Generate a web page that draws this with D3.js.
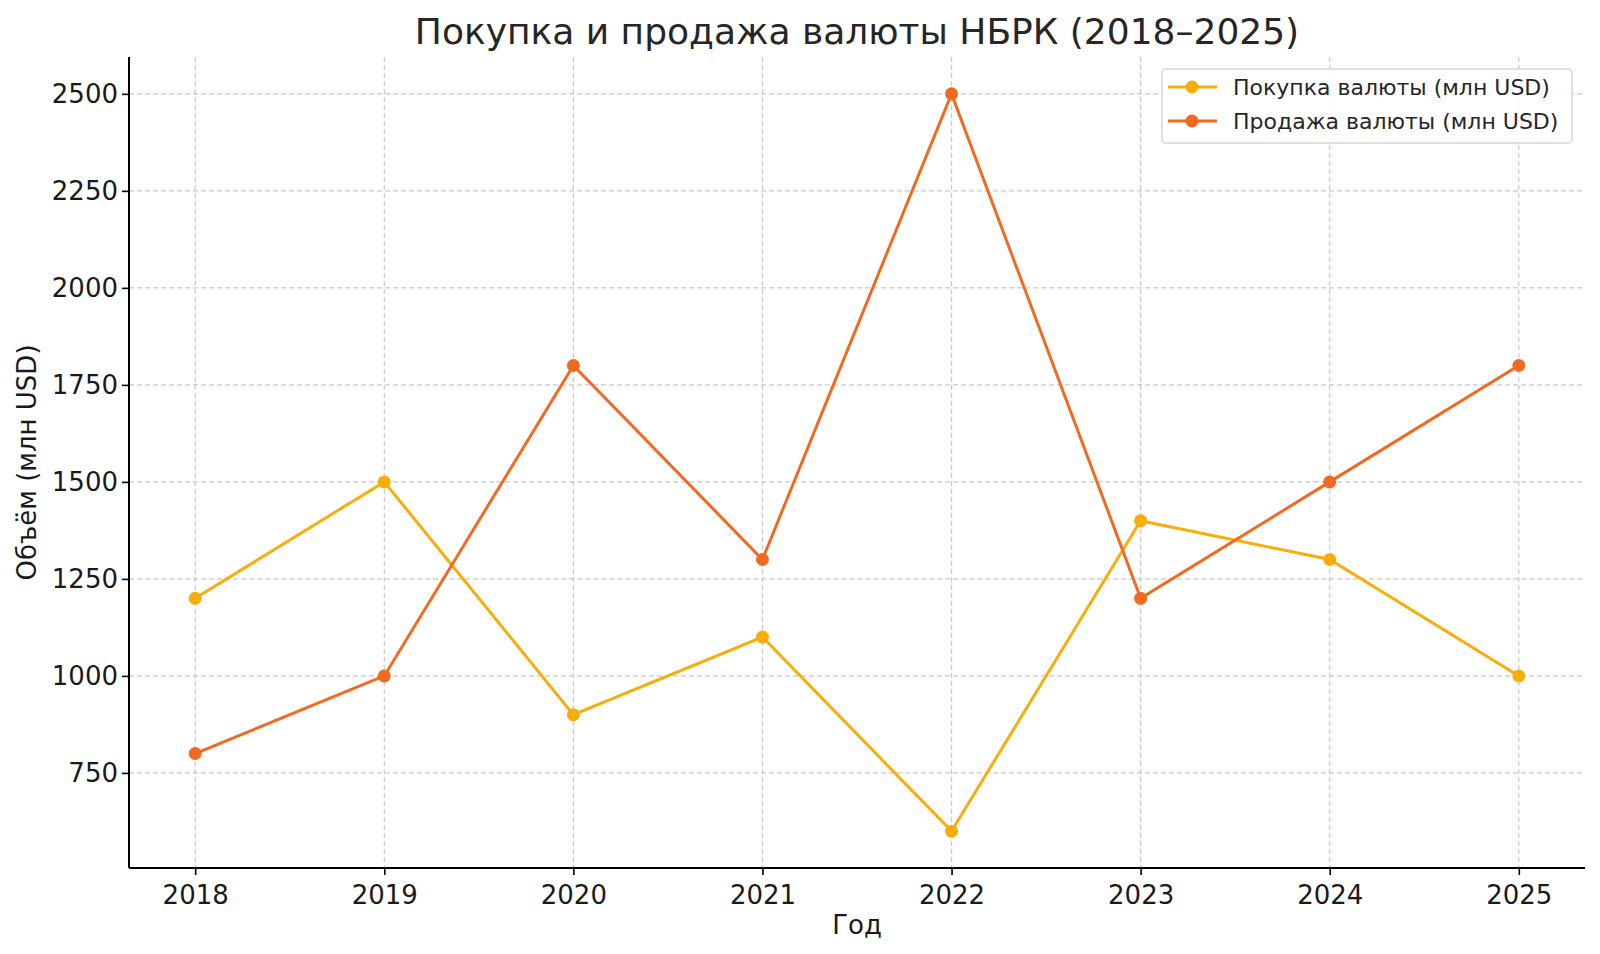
<!DOCTYPE html>
<html>
<head>
<meta charset="utf-8">
<script src="https://cdn.jsdelivr.net/npm/d3@7"></script>
<style>
  body { margin: 0; background: #fff; }
  svg { font-family: "DejaVu Sans", sans-serif; }
</style>
</head>
<body>
<svg id="chart" width="1600" height="954"></svg>
<script>
var years = [2018, 2019, 2020, 2021, 2022, 2023, 2024, 2025];
var buy = [1200, 1500, 900, 1100, 600, 1400, 1300, 1000];
var sell = [800, 1000, 1800, 1300, 2500, 1200, 1500, 1800];
var yTicks = [750, 1000, 1250, 1500, 1750, 2000, 2250, 2500];

var series = [
  { name: 'Покупка валюты (млн USD)', values: buy, color: '#f7ae0b' },
  { name: 'Продажа валюты (млн USD)', values: sell, color: '#f06a22' }
];

var plotLeft = 129, plotRight = 1585, plotTop = 57, plotBottom = 868;

var svg = d3.select('#chart');

var xScale = d3.scaleLinear().domain([2017.65, 2025.35]).range([plotLeft, plotRight]);
var yScale = d3.scaleLinear().domain([505, 2595]).range([plotBottom, plotTop]);

// grid
svg.append('g')
  .selectAll('line')
  .data(years)
  .enter()
  .append('line')
  .attr('x1', d => xScale(d)).attr('x2', d => xScale(d))
  .attr('y1', plotTop).attr('y2', plotBottom)
  .attr('stroke', '#c8c8c8').attr('stroke-width', 1.2)
  .attr('stroke-dasharray', '5,3');

svg.append('g')
  .selectAll('line')
  .data(yTicks)
  .enter()
  .append('line')
  .attr('x1', plotLeft).attr('x2', plotRight)
  .attr('y1', d => yScale(d)).attr('y2', d => yScale(d))
  .attr('stroke', '#c8c8c8').attr('stroke-width', 1.2)
  .attr('stroke-dasharray', '5,3');

// axes
var xAxis = d3.axisBottom(xScale).tickValues(years).tickFormat(d3.format('d')).tickSize(7).tickSizeOuter(0);
var yAxis = d3.axisLeft(yScale).tickValues(yTicks).tickFormat(d3.format('d')).tickSize(7).tickSizeOuter(0);

var gx = svg.append('g')
  .attr('transform', `translate(0, ${plotBottom})`)
  .call(xAxis);
gx.select('.domain').attr('d', `M${plotLeft},0H${plotRight}`);

var gy = svg.append('g')
  .attr('transform', `translate(${plotLeft}, 0)`)
  .call(yAxis);
gy.select('.domain').attr('d', `M0,${plotTop}V${plotBottom}`);

[gx, gy].forEach(g => {
  g.select('.domain').attr('stroke', '#000').attr('stroke-width', 2);
  g.selectAll('.tick line').attr('stroke', '#000').attr('stroke-width', 1.6);
  g.selectAll('.tick text').attr('fill', '#1a1a1a').style('font-size', '26px').style('font-family', 'DejaVu Sans');
});
gx.selectAll('.tick text').attr('dy', '1.0em');
gy.selectAll('.tick text').attr('x', -11);

// lines
var line = d3.line()
  .x((d, i) => xScale(years[i]))
  .y(d => yScale(d));

series.forEach(s => {
  svg.append('path')
    .datum(s.values)
    .attr('d', line)
    .attr('fill', 'none')
    .attr('stroke', s.color)
    .attr('stroke-width', 3);

  svg.append('g')
    .selectAll('circle')
    .data(s.values)
    .enter()
    .append('circle')
    .attr('cx', (d, i) => xScale(years[i]))
    .attr('cy', d => yScale(d))
    .attr('r', 6.5)
    .attr('fill', s.color);
});

// title and labels
svg.append('text')
  .attr('x', (plotLeft + plotRight) / 2).attr('y', 44)
  .attr('text-anchor', 'middle')
  .style('font-size', '36px')
  .attr('fill', '#262626')
  .text('Покупка и продажа валюты НБРК (2018–2025)');

svg.append('text')
  .attr('x', (plotLeft + plotRight) / 2).attr('y', 934)
  .attr('text-anchor', 'middle')
  .style('font-size', '26px')
  .attr('fill', '#1a1a1a')
  .text('Год');

svg.append('text')
  .attr('transform', `translate(36, ${(plotTop + plotBottom) / 2}) rotate(-90)`)
  .attr('text-anchor', 'middle')
  .style('font-size', '26px')
  .attr('fill', '#1a1a1a')
  .text('Объём (млн USD)');

// legend
var legend = svg.append('g').attr('transform', 'translate(1162, 69)');
legend.append('rect')
  .attr('width', 410).attr('height', 74)
  .attr('rx', 4)
  .attr('fill', '#fff').attr('fill-opacity', 0.85)
  .attr('stroke', '#d6d6d6').attr('stroke-width', 1.5);

series.forEach((s, i) => {
  var row = legend.append('g').attr('transform', `translate(0, ${18 + i * 34})`);
  row.append('line')
    .attr('x1', 6).attr('x2', 55)
    .attr('stroke', s.color).attr('stroke-width', 3);
  row.append('circle')
    .attr('cx', 30).attr('r', 6.5).attr('fill', s.color);
  row.append('text')
    .attr('x', 71).attr('dy', '0.35em')
    .style('font-size', '22px')
    .attr('fill', '#262626')
    .text(s.name);
});
</script>
</body>
</html>
